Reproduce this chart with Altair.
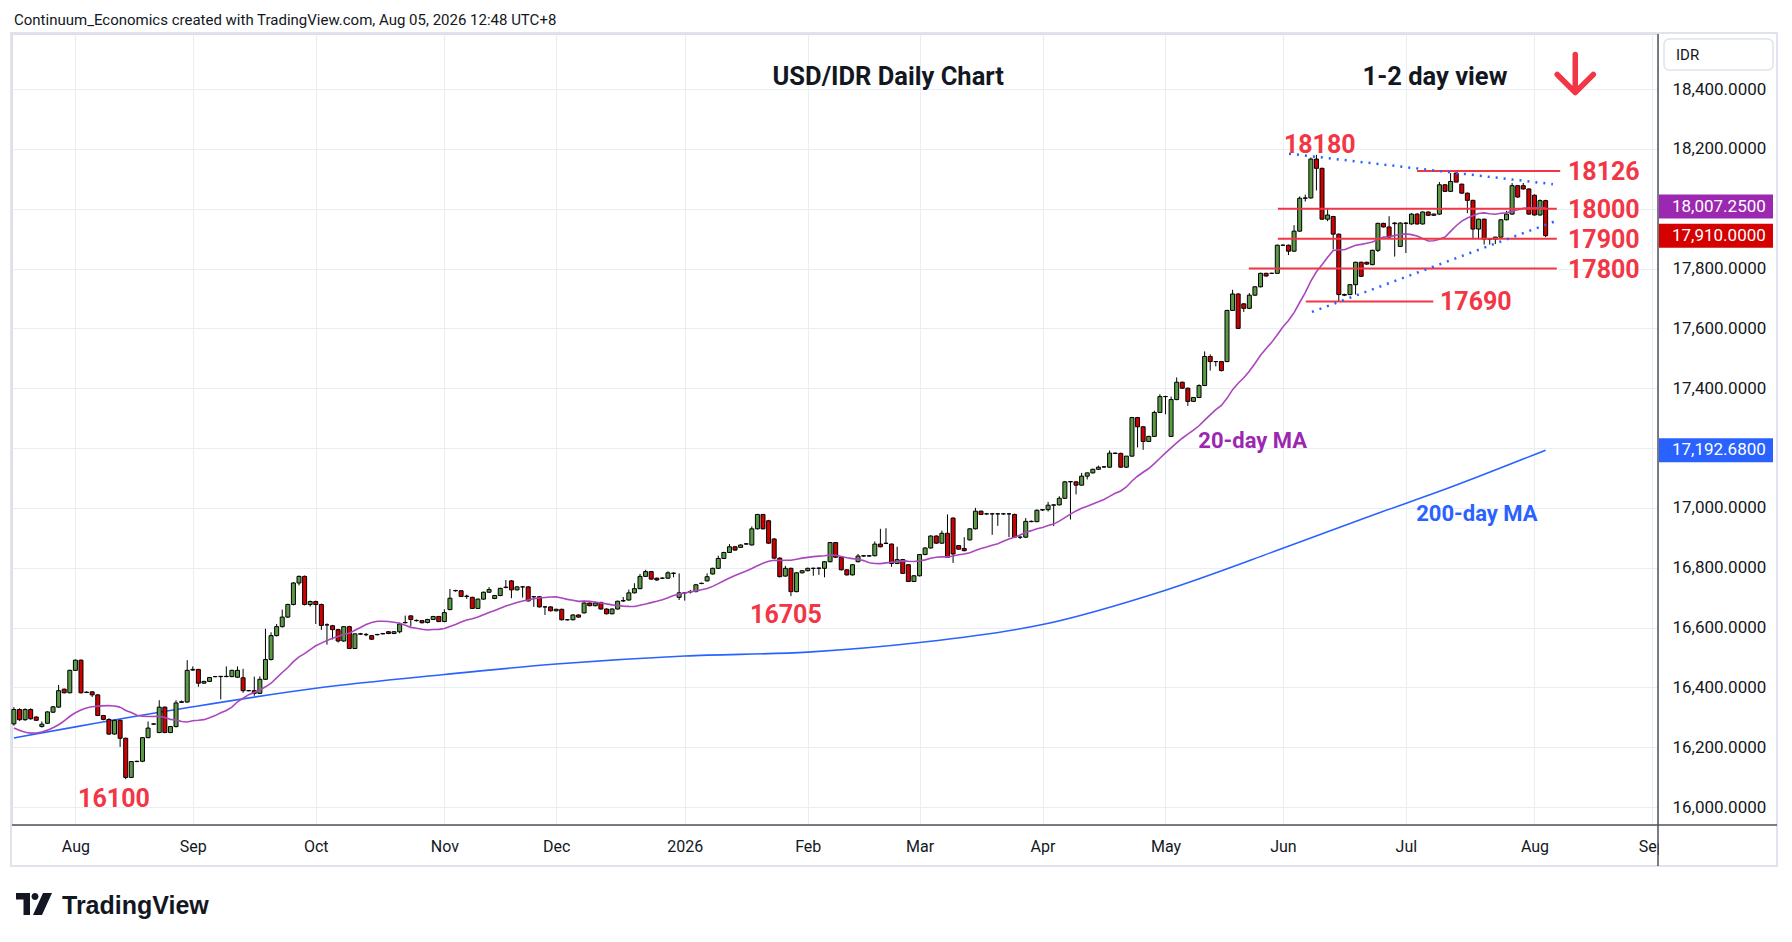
import altair as alt
import pandas as pd

# ---------------- data ----------------
FIRST_INDEX = -11   # bar index of the first visible bar (index 0 = 1 Aug 2025, weekdays only)

OPEN = [16278,16326,16292,16326,16301,16269,16280,16317,16334,16394,
        16382,16457,16491,16384,16385,16375,16306,16293,16244,16290,
        16230,16099,16152,16153,16232,16277,16249,16334,16249,16269,
        16350,16351,16458,16460,16414,16420,16436,16436,16436,16436,
        16434,16432,16389,16389,16380,16427,16493,16573,16603,16635,
        16677,16749,16771,16677,16687,16677,16609,16606,16593,16555,
        16603,16530,16579,16576,16573,16576,16579,16586,16580,16586,
        16616,16639,16624,16623,16617,16627,16637,16620,16660,16723,
        16723,16704,16701,16664,16695,16718,16697,16707,16734,16756,
        16726,16736,16736,16703,16703,16669,16669,16656,16661,16626,
        16626,16642,16649,16682,16673,16684,16662,16646,16662,16689,
        16692,16716,16730,16771,16787,16765,16765,16765,16781,16701,
        16716,16719,16720,16747,16756,16779,16798,16831,16851,16870,
        16868,16879,16876,16930,16978,16957,16896,16832,16772,16798,
        16720,16783,16790,16798,16798,16798,16820,16884,16835,16793,
        16776,16820,16839,16839,16840,16879,16881,16879,16814,16827,
        16810,16754,16773,16844,16866,16906,16882,16915,16966,16874,
        16864,16893,16930,16989,16980,16980,16980,16980,16980,16978,
        16902,16902,16955,16954,16993,16994,17009,17010,17032,17087,
        17087,17076,17106,17117,17129,17137,17136,17182,17182,17136,
        17173,17302,17271,17222,17239,17319,17372,17239,17362,17420,
        17400,17356,17369,17409,17506,17489,17489,17489,17660,17715,
        17682,17667,17711,17739,17784,17784,17784,17878,17878,17858,
        17925,18035,18036,18166,18135,17965,17974,17915,17713,17713,
        17746,17821,17821,17813,17861,17951,17939,17952,17874,17952,
        17949,17982,17949,17989,17978,17982,18080,18058,18119,18082,
        18052,18028,17932,17965,17898,17898,17905,17963,17982,18077,
        18077,18066,18045,17979,18027]

HIGH = [16334,16330,16330,16330,16303,16286,16320,16338,16408,16396,
        16459,16493,16493,16387,16387,16377,16308,16296,16292,16292,
        16232,16154,16155,16234,16286,16280,16357,16336,16271,16357,
        16356,16491,16470,16462,16422,16435,16438,16438,16470,16459,
        16470,16462,16391,16436,16437,16596,16584,16612,16660,16680,
        16752,16774,16774,16690,16690,16680,16614,16609,16596,16603,
        16606,16579,16582,16582,16575,16578,16582,16588,16588,16617,
        16640,16641,16627,16625,16629,16639,16639,16661,16729,16726,
        16725,16710,16703,16697,16720,16735,16709,16733,16759,16759,
        16738,16738,16738,16705,16705,16671,16671,16663,16663,16628,
        16645,16644,16690,16684,16684,16686,16664,16664,16690,16702,
        16727,16748,16779,16793,16789,16767,16768,16788,16784,16781,
        16718,16726,16746,16750,16781,16800,16840,16853,16879,16872,
        16878,16882,16938,16980,16980,16960,16899,16835,16806,16800,
        16785,16792,16800,16800,16800,16822,16886,16886,16837,16795,
        16812,16846,16842,16842,16888,16930,16932,16881,16870,16829,
        16812,16775,16846,16868,16908,16908,16924,16978,16968,16876,
        16902,16932,17000,16991,16983,16983,16983,16983,16983,16981,
        16905,16966,16958,16995,16996,17020,17012,17039,17090,17089,
        17089,17117,17118,17131,17141,17140,17192,17185,17185,17173,
        17304,17304,17273,17241,17325,17380,17375,17372,17436,17422,
        17402,17371,17413,17523,17513,17491,17491,17662,17729,17717,
        17684,17718,17741,17786,17786,17786,17880,17880,17880,17945,
        18041,18047,18171,18180,18137,17998,17976,17917,17716,17748,
        17823,17823,17823,17863,17953,17953,17975,17955,17955,17955,
        17985,17985,17991,17991,17984,18089,18082,18119,18126,18084,
        18054,18030,17967,17967,17900,17906,17965,17993,18086,18079,
        18086,18068,18048,18031,18030]

LOW = [16272,16288,16288,16292,16288,16266,16278,16315,16332,16380,
       16380,16455,16380,16381,16368,16304,16290,16242,16242,16201,
       16093,16097,16150,16150,16230,16275,16247,16247,16247,16266,
       16348,16349,16455,16402,16412,16418,16434,16360,16434,16434,
       16432,16382,16387,16372,16378,16425,16490,16570,16600,16632,
       16674,16741,16674,16670,16612,16592,16543,16560,16550,16552,
       16530,16528,16576,16571,16559,16574,16577,16578,16578,16581,
       16614,16604,16620,16614,16614,16625,16618,16618,16658,16720,
       16702,16696,16662,16662,16693,16716,16695,16705,16731,16698,
       16724,16700,16687,16669,16667,16642,16654,16654,16624,16624,
       16624,16633,16647,16671,16671,16660,16644,16644,16660,16686,
       16690,16714,16728,16769,16760,16756,16762,16763,16768,16692,
       16690,16714,16718,16745,16754,16777,16796,16829,16849,16857,
       16866,16877,16874,16928,16928,16880,16830,16768,16770,16705,
       16718,16781,16788,16773,16776,16768,16818,16833,16791,16774,
       16774,16818,16837,16837,16838,16868,16879,16803,16812,16779,
       16752,16752,16771,16842,16864,16880,16880,16833,16816,16860,
       16855,16891,16928,16977,16977,16910,16940,16977,16902,16900,
       16896,16900,16952,16952,16990,16988,16939,17008,17030,16961,
       17045,17074,17095,17115,17127,17134,17134,17180,17134,17134,
       17171,17202,17194,17220,17237,17317,17313,17237,17360,17398,
       17341,17354,17367,17407,17459,17473,17456,17487,17658,17598,
       17655,17665,17709,17737,17773,17782,17782,17876,17845,17856,
       17923,18024,18034,18061,17963,17958,17864,17690,17708,17711,
       17713,17772,17812,17811,17855,17937,17903,17840,17872,17852,
       17947,17947,17947,17976,17976,17980,18056,18056,18089,18050,
       17985,17898,17898,17880,17880,17882,17903,17961,17980,18037,
       18064,17980,17977,17977,17905]

CLOSE = [16326,16292,16326,16295,16290,16277,16318,16335,16389,16382,
         16457,16491,16382,16383,16375,16306,16293,16244,16290,16230,
         16099,16152,16153,16232,16264,16278,16334,16249,16269,16348,
         16352,16457,16460,16414,16420,16433,16436,16437,16437,16457,
         16457,16389,16389,16380,16427,16493,16573,16603,16635,16677,
         16749,16771,16677,16687,16677,16607,16609,16593,16555,16603,
         16530,16579,16578,16577,16561,16577,16580,16580,16586,16612,
         16617,16627,16623,16616,16627,16637,16620,16650,16698,16724,
         16704,16705,16664,16695,16718,16727,16707,16731,16735,16726,
         16736,16736,16689,16703,16669,16669,16656,16661,16626,16626,
         16642,16635,16682,16673,16682,16662,16646,16662,16688,16690,
         16716,16730,16771,16787,16762,16759,16765,16783,16782,16716,
         16716,16720,16743,16748,16770,16798,16831,16851,16870,16859,
         16876,16880,16930,16978,16930,16882,16832,16770,16798,16720,
         16783,16790,16798,16798,16799,16820,16884,16835,16793,16776,
         16810,16839,16840,16840,16879,16870,16882,16814,16827,16781,
         16754,16773,16844,16866,16906,16882,16915,16835,16846,16862,
         16857,16930,16989,16978,16980,16980,16980,16980,16980,16902,
         16902,16955,16954,16992,16994,17009,17010,17032,17087,17088,
         17076,17106,17117,17129,17136,17137,17183,17183,17136,17173,
         17302,17271,17222,17239,17319,17372,17372,17362,17420,17400,
         17356,17369,17409,17506,17489,17489,17459,17660,17715,17600,
         17667,17711,17739,17784,17775,17784,17878,17878,17858,17925,
         18035,18036,18166,18135,17965,17979,17915,17713,17711,17746,
         17821,17774,17815,17861,17951,17939,17905,17950,17952,17951,
         17982,17949,17989,17978,17982,18080,18058,18091,18089,18052,
         18028,17932,17965,17898,17898,17905,17963,17982,18077,18039,
         18066,17982,17979,18027,17910]

MONTH_INDEX = [0, 21, 43, 66, 86, 109, 131, 151, 173, 195, 216, 238, 261, 282]
MONTH_LABELS = ["Aug", "Sep", "Oct", "Nov", "Dec", "2026", "Feb", "Mar",
                "Apr", "May", "Jun", "Jul", "Aug", "Sep"]
PRICE_TICKS = [16000, 16200, 16400, 16600, 16800, 17000, 17200,
               17400, 17600, 17800, 18000, 18200, 18400]

# 20-day MA as drawn before a full 20-bar window exists in view
MA20_EARLY_INDEX = [-11, -8, -6, -3, 0, 3, 6, 8]
MA20_EARLY_VALUE = [16264, 16247, 16251, 16275, 16315, 16335, 16339, 16334]

MA200_INDEX = [-11, 0, 21, 43, 66, 86, 109, 131, 151, 173, 195, 216, 233, 245, 263]
MA200_VALUE = [16231, 16268, 16335, 16397, 16443, 16478, 16505, 16518, 16550,
               16610, 16725, 16865, 16982, 17062, 17193]

LEVELS = [18126, 18000, 17900, 17800, 17690]
LEVEL_LABELS = ["18126", "18000", "17900", "17800", "17690"]
LEVEL_FROM = [240.0, 215.1, 215.1, 209.9, 220.1]
LEVEL_TO = [265.6, 265.0, 265.0, 265.0, 242.9]
LEVEL_LABEL_AT = [267.0, 267.0, 267.0, 267.0, 244.1]

TREND_NAMES = ["upper", "upper", "lower", "lower"]
TREND_INDEX = [217.1, 264.3, 221.2, 265.4]
TREND_VALUE = [18184, 18082, 17655, 17963]

EXTREME_LABELS = ["18180", "16705", "16100"]
EXTREME_INDEX = [222.6, 127.1, 6.9]
EXTREME_VALUE = [18213, 16643, 16026]

PRICE_TAGS = ["18,007.2500", "17,910.0000", "17,192.6800"]
PRICE_TAG_VALUES = [18007.25, 17910.0, 17192.68]
PRICE_TAG_COLORS = ["#9c27b0", "#d50000", "#2962ff"]

HEADER = "Continuum_Economics created with TradingView.com, Aug 05, 2026 12:48 UTC+8"

# ---------------- styling ----------------
FONT = "Roboto"
TXT = "#131722"
GRID = "#e9eef4"
GREEN = "#5b9b46"
CANDLE_RED = "#d10000"
LABEL_RED = "#f23645"
PURPLE = "#ab47bc"
BLUE = "#2962ff"
W, H = 1646, 791

xscale = alt.Scale(domain=[-11.34, 283.1], nice=False, zero=False, padding=0)
yscale = alt.Scale(domain=[15940, 18584], nice=False, zero=False, padding=0)

label_expr = ("[" + ",".join("'%s'" % m for m in MONTH_LABELS) + "][indexof(["
              + ",".join(str(v) for v in MONTH_INDEX) + "], datum.value)]")

xaxis = alt.Axis(values=MONTH_INDEX, labelExpr=label_expr, title="", grid=True,
                 gridColor=GRID, gridWidth=1, domain=False, ticks=False, tickSize=0,
                 labelFont=FONT, labelFontSize=16, labelColor=TXT, labelPadding=13,
                 labelFlush=False, labelOverlap=False)
yaxis = alt.Axis(values=PRICE_TICKS, format=",.4f", orient="right", title="", grid=True,
                 gridColor=GRID, gridWidth=1, domain=False, ticks=False, tickSize=0,
                 labelFont=FONT, labelFontSize=17, labelColor=TXT, labelPadding=14,
                 labelFlush=False, labelOverlap=False, labelBaseline="middle")


def X(f):
    return alt.X(f, type="quantitative", scale=xscale, axis=xaxis)


def Y(f):
    return alt.Y(f, type="quantitative", scale=yscale, axis=yaxis)


bars = pd.DataFrame({
    "i": list(range(FIRST_INDEX, FIRST_INDEX + len(CLOSE))),
    "o": OPEN, "h": HIGH, "l": LOW, "c": CLOSE,
})
ma20_early = pd.DataFrame({"i": MA20_EARLY_INDEX, "ma": MA20_EARLY_VALUE})
ma200 = pd.DataFrame({"i": MA200_INDEX, "ma": MA200_VALUE})
levels = pd.DataFrame({"v": LEVELS, "a": LEVEL_FROM, "b": LEVEL_TO,
                       "t": LEVEL_LABELS, "li": LEVEL_LABEL_AT})
trends = pd.DataFrame({"name": TREND_NAMES, "i": TREND_INDEX, "v": TREND_VALUE})
extremes = pd.DataFrame({"t": EXTREME_LABELS, "i": EXTREME_INDEX, "v": EXTREME_VALUE})
tags = pd.DataFrame({"t": PRICE_TAGS, "v": PRICE_TAG_VALUES, "col": PRICE_TAG_COLORS})
one = pd.DataFrame({"k": [0]})

base = alt.Chart(bars)

ma200_line = alt.Chart(ma200).mark_line(color=BLUE, strokeWidth=1.6, interpolate="monotone").encode(
    x=X("i"), y=Y("ma"))

wicks = base.mark_rule(color="#000000", strokeWidth=1).encode(
    x=X("i"), y=Y("l"), y2=alt.Y2("h"))

bodies = base.mark_bar(size=4, stroke="#000000", strokeWidth=1).encode(
    x=X("i"), y=Y("o"), y2=alt.Y2("c"),
    color=alt.when(alt.datum.c >= alt.datum.o).then(alt.value(GREEN)).otherwise(alt.value(CANDLE_RED)))

ma20_line = base.transform_window(
    ma="mean(c)", frame=[-19, 0], sort=[alt.SortField("i", order="ascending")]
).transform_filter("datum.i >= 8").mark_line(color=PURPLE, strokeWidth=1.6).encode(
    x=X("i"), y=Y("ma"))

ma20_early_line = alt.Chart(ma20_early).mark_line(
    color=PURPLE, strokeWidth=1.6, interpolate="monotone").encode(x=X("i"), y=Y("ma"))

level_lines = alt.Chart(levels).mark_rule(color=LABEL_RED, strokeWidth=2).encode(
    x=X("a"), x2=alt.X2("b"), y=Y("v"))

trend_lines = alt.Chart(trends).mark_line(
    color=BLUE, strokeWidth=2.5, strokeDash=[2, 6]).encode(
    x=X("i"), y=Y("v"), detail="name")

level_text = alt.Chart(levels).mark_text(
    align="left", baseline="middle", font=FONT, fontSize=25, fontWeight="bold",
    color=LABEL_RED, dy=1).encode(x=X("li"), y=Y("v"), text="t")

extreme_text = alt.Chart(extremes).mark_text(
    align="center", baseline="middle", font=FONT, fontSize=25, fontWeight="bold",
    color=LABEL_RED).encode(x=X("i"), y=Y("v"), text="t")

titles = pd.DataFrame({"t": ["USD/IDR Daily Chart", "1-2 day view"],
                       "i": [145.4, 243.2], "v": [18440, 18440]})
title_text = alt.Chart(titles).mark_text(
    align="center", baseline="middle", font=FONT, fontSize=25.5, fontWeight="bold",
    color=TXT).encode(x=X("i"), y=Y("v"), text="t")

ma20_label = alt.Chart(pd.DataFrame({"t": ["20-day MA"], "i": [210.6], "v": [17225]})).mark_text(
    align="center", baseline="middle", font=FONT, fontSize=22, fontWeight="bold",
    color="#9c27b0").encode(x=X("i"), y=Y("v"), text="t")

ma200_label = alt.Chart(pd.DataFrame({"t": ["200-day MA"], "i": [250.7], "v": [16978]})).mark_text(
    align="center", baseline="middle", font=FONT, fontSize=22, fontWeight="bold",
    color=BLUE).encode(x=X("i"), y=Y("v"), text="t")

ARROW = "M0,-1L0,1M-0.95,0.05L0,1L0.95,0.05"
arrow = alt.Chart(pd.DataFrame({"i": [268.3], "v": [18452]})).mark_point(
    shape=ARROW, size=1444, filled=False, stroke=LABEL_RED, strokeWidth=5.5,
    strokeCap="round", strokeJoin="round", opacity=1).encode(x=X("i"), y=Y("v"))

# ---- decorations of the TradingView frame (pixel positioned) ----
frame = alt.Chart(one).mark_rect(fillOpacity=0, stroke="#e0e3eb", strokeWidth=2).encode(
    x=alt.value(-1), x2=alt.value(1765), y=alt.value(-1), y2=alt.value(832))

sep_cover = alt.Chart(one).mark_rect(fill="white").encode(
    x=alt.value(1647), x2=alt.value(1700), y=alt.value(793), y2=alt.value(830))

tag_boxes = alt.Chart(tags).mark_rule(strokeWidth=24).encode(
    x=alt.value(1647), x2=alt.value(1761), y=Y("v"),
    color=alt.Color("col:N", scale=None))
tag_text = alt.Chart(tags).mark_text(
    align="left", baseline="middle", font=FONT, fontSize=17, color="white").encode(
    x=alt.value(1660), y=Y("v"), text="t")

axis_line = alt.Chart(one).mark_rule(color="#50535e", strokeWidth=1.5).encode(
    x=alt.value(0), x2=alt.value(1765), y=alt.value(791))
separator = alt.Chart(one).mark_rule(color="#50535e", strokeWidth=1.5).encode(
    x=alt.value(W), y=alt.value(0), y2=alt.value(832))

idr_box = alt.Chart(one).mark_rect(fill="white", stroke="#e0e3eb", strokeWidth=1.5,
                                   cornerRadius=5).encode(
    x=alt.value(1652), x2=alt.value(1761), y=alt.value(5), y2=alt.value(36))
idr_text = alt.Chart(one).mark_text(
    text="IDR", align="left", baseline="middle", font=FONT, fontSize=15, color=TXT).encode(
    x=alt.value(1664), y=alt.value(21))

header = alt.Chart(one).mark_text(
    text=HEADER, align="left", baseline="middle", font=FONT, fontSize=15, color=TXT).encode(
    x=alt.value(2), y=alt.value(-14))

LOGO = ("M-1,-0.611L-0.222,-0.611L-0.222,0.611L-0.583,0.611L-0.583,-0.25L-1,-0.25Z"
        "M-0.139,-0.417A0.194,0.194 0 1,0 0.25,-0.417A0.194,0.194 0 1,0 -0.139,-0.417Z"
        "M-0.056,0.611L0.5,-0.611L1,-0.611L0.444,0.611Z")
logo = alt.Chart(one).mark_point(shape=LOGO, size=1296, filled=True, color=TXT,
                                 opacity=1, strokeWidth=0).encode(
    x=alt.value(22), y=alt.value(870))
logo_text = alt.Chart(one).mark_text(
    text="TradingView", align="left", baseline="alphabetic", font="Liberation Sans",
    fontSize=25, fontWeight="bold", color=TXT).encode(x=alt.value(50), y=alt.value(880))

chart = alt.layer(
    frame, ma200_line, wicks, bodies, ma20_early_line, ma20_line, level_lines,
    trend_lines, level_text, extreme_text, title_text, ma20_label, ma200_label, arrow,
    sep_cover, tag_boxes, tag_text, axis_line, separator, idr_box, idr_text,
    header, logo, logo_text,
).properties(
    width=W, height=H,
    padding={"left": 4, "top": 26, "right": 126, "bottom": 103},
    autosize=alt.AutoSizeParams(type="none"),
).configure_view(strokeWidth=0).configure(background="white")

chart.save("out.html", embed_options={"renderer": "svg", "actions": False})
